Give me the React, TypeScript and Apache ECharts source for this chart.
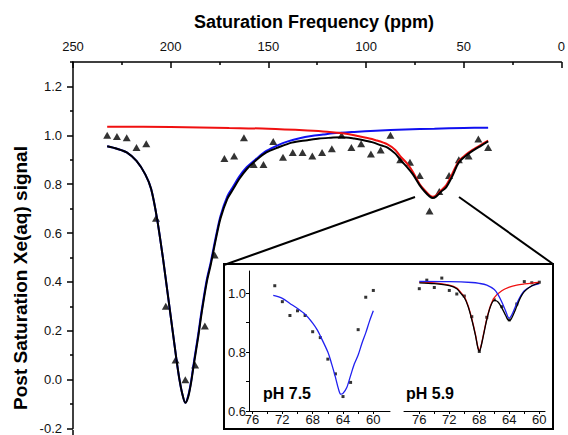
import React, { useEffect, useRef } from "react";
import * as echarts from "echarts";

// ---- Main chart: measured points (triangles)
const triPpm = [232.5, 227.5, 222.5, 217.5, 212.5, 207.5, 202.5, 197.5, 192.5, 187.5, 182.5, 177.5, 172.5, 167.5, 162.5, 157.5, 152.5, 147.5, 142.5, 137.5, 132.5, 127.5, 122.5, 117.5, 112.5, 107.5, 102.5, 97.5, 92.5, 87.5, 82.5, 77.5, 72.5, 67.5, 62.5, 57.5, 52.5, 47.5, 42.5, 37.5];
const triSignal = [1.0, 0.995, 0.99, 0.95, 0.965, 0.66, 0.3, 0.08, 0.0, 0.06, 0.22, 0.51, 0.905, 0.915, 0.99, 0.88, 0.88, 0.975, 0.91, 0.93, 0.93, 0.915, 0.93, 0.945, 1.0, 0.95, 0.965, 0.923, 0.94, 1.0, 0.9, 0.89, 0.835, 0.69, 0.77, 0.835, 0.9, 0.915, 0.985, 0.95];

// ---- Main chart: total fit (black)
const blackPpm = [232.5, 227.5, 222.5, 217.5, 213, 210, 207, 204, 201.5, 199, 197, 195.5, 194, 192.5, 191, 189.5, 188, 186, 184, 181.5, 179.5, 177, 174.5, 171, 168, 165, 161, 156, 151, 145, 138, 130, 124, 118, 112.5, 106, 102.5, 97, 92, 89, 85, 82.5, 79, 76, 72.5, 70, 67.5, 65.8, 64, 61.5, 59, 56, 52.5, 49, 45.5, 41, 37.5];
const blackSignal = [0.955, 0.945, 0.93, 0.895, 0.84, 0.78, 0.66, 0.5, 0.35, 0.2, 0.08, 0.0, -0.06, -0.095, -0.07, -0.01, 0.07, 0.17, 0.28, 0.4, 0.47, 0.57, 0.66, 0.74, 0.78, 0.82, 0.862, 0.9, 0.93, 0.95, 0.97, 0.98, 0.987, 0.99, 0.992, 0.987, 0.982, 0.972, 0.958, 0.95, 0.925, 0.9, 0.87, 0.84, 0.795, 0.77, 0.75, 0.743, 0.75, 0.77, 0.787, 0.83, 0.889, 0.915, 0.936, 0.958, 0.975];

// ---- Main chart: Xe@cage component (blue)
const bluePpm = [232.5, 227.5, 222.5, 217.5, 213, 210, 207, 204, 201.5, 199, 197, 195.5, 194, 192.5, 191, 189.5, 188, 186, 184, 181.5, 179.5, 177, 174.5, 171, 168, 165, 161, 156, 151, 145, 140, 134, 128, 122, 117, 106, 95, 80, 65, 50, 37.5];
const blueSignal = [0.955, 0.945, 0.93, 0.895, 0.84, 0.78, 0.66, 0.5, 0.35, 0.2, 0.08, 0.0, -0.06, -0.095, -0.065, -0.005, 0.078, 0.18, 0.29, 0.41, 0.48, 0.58, 0.67, 0.75, 0.79, 0.83, 0.87, 0.905, 0.936, 0.96, 0.975, 0.988, 0.997, 1.003, 1.008, 1.014, 1.019, 1.024, 1.027, 1.03, 1.031];

// ---- Main chart: second component (red)
const redPpm = [232.5, 200, 170, 150, 130, 120, 112, 106, 100, 95, 89, 85, 82.5, 79, 76, 72.5, 70, 67.5, 65.8, 64, 61.5, 59, 56, 52.5, 49, 45.5, 41, 37.5];
const redSignal = [1.035, 1.034, 1.03, 1.027, 1.02, 1.015, 1.008, 1.0, 0.99, 0.98, 0.963, 0.94, 0.915, 0.885, 0.85, 0.8, 0.775, 0.755, 0.748, 0.755, 0.775, 0.795, 0.84, 0.895, 0.92, 0.94, 0.962, 0.978];

// ---- Inset, pH 7.5
const inAPpm = [73, 72, 71, 70, 69, 68, 67, 66, 65, 64, 63, 62, 61, 60];
const inASignal = [1.025, 0.971, 0.924, 0.94, 0.924, 0.869, 0.849, 0.776, 0.726, 0.649, 0.697, 0.876, 0.986, 1.009];
const inABluePpm = [73.2, 72, 71, 70, 69, 68, 67.4, 67, 66, 65.5, 65, 64.6, 64.3, 64, 63.5, 63, 62.5, 62, 61.5, 61, 60.5, 60];
const inABlueSignal = [0.992, 0.982, 0.965, 0.948, 0.928, 0.898, 0.875, 0.855, 0.8, 0.76, 0.715, 0.675, 0.657, 0.66, 0.68, 0.72, 0.76, 0.79, 0.83, 0.865, 0.905, 0.94];

// ---- Inset, pH 5.9
const inBPpm = [76, 75, 74, 73, 72, 71, 70, 69, 68, 67, 66, 65, 64, 63, 62, 61, 60];
const inBSignal = [1.015, 1.044, 1.019, 1.051, 1.009, 0.997, 0.99, 0.92, 0.802, 0.918, 0.977, 0.954, 0.909, 0.963, 1.039, 1.035, 1.037];
const inBBlackPpm = [76, 74, 72, 71, 70.5, 70, 69.5, 69, 68.5, 68.2, 68, 67.8, 67.5, 67, 66.5, 66, 65.5, 65, 64.5, 64.2, 64, 63.8, 63.5, 63, 62.5, 62, 61, 60];
const inBBlackSignal = [1.035, 1.032, 1.025, 1.015, 1.0, 0.985, 0.955, 0.91, 0.855, 0.815, 0.803, 0.815, 0.85, 0.91, 0.955, 0.975, 0.97, 0.95, 0.925, 0.91, 0.907, 0.91, 0.925, 0.955, 0.985, 1.005, 1.025, 1.035];
const inBRedPpm = [76, 74, 72, 71, 70.5, 70, 69.5, 69, 68.5, 68.2, 68, 67.8, 67.5, 67, 66.5, 66, 65, 64, 63, 62, 61, 60];
const inBRedSignal = [1.037, 1.035, 1.027, 1.017, 1.003, 0.988, 0.958, 0.913, 0.858, 0.818, 0.805, 0.818, 0.853, 0.913, 0.958, 0.985, 1.008, 1.02, 1.027, 1.031, 1.034, 1.036];
const inBBluePpm = [76, 72, 69, 68, 67, 66, 65.5, 65, 64.5, 64.2, 64, 63.8, 63.5, 63, 62.5, 62, 61, 60];
const inBBlueSignal = [1.04, 1.039, 1.036, 1.033, 1.027, 1.012, 0.995, 0.97, 0.94, 0.92, 0.915, 0.92, 0.935, 0.965, 0.99, 1.008, 1.024, 1.032];

const mainYTicks = [-0.2, 0, 0.2, 0.4, 0.6, 0.8, 1.0, 1.2];
const insetXLabels = [60, 64, 68, 72, 76];
const insetXTicks = [60, 62, 64, 66, 68, 70, 72, 74, 76];
const insetYLabels = [0.6, 0.8, 1.0];
const insetYTicks = [0.6, 0.7, 0.8, 0.9, 1.0];

const FONT = "'Liberation Sans', Arial, Helvetica, sans-serif";

const pairs = (xs: number[], ys: number[]) => xs.map((x, i) => [x, ys[i]]);

function buildOption(): any {
  const axisLine = { show: true, onZero: false, lineStyle: { color: "#000", width: 1.5 } };
  const lbl = { color: "#111", fontSize: 13, fontFamily: FONT };
  const insetX = (gridIndex: number, min: number, max: number) => ({
    type: "value",
    gridIndex,
    min,
    max,
    inverse: true,
    position: "bottom",
    axisLine: { show: true, onZero: false, lineStyle: { color: "#000", width: 1 } },
    axisTick: { show: true, length: 3, customValues: insetXTicks, lineStyle: { color: "#000", width: 1 } },
    axisLabel: { ...lbl, margin: 2, customValues: insetXLabels },
    splitLine: { show: false },
  });
  const lineSeries = (name: string, xi: number, xs: number[], ys: number[], color: string, width: number) => ({
    name,
    type: "line",
    xAxisIndex: xi,
    yAxisIndex: xi,
    data: pairs(xs, ys),
    showSymbol: false,
    smooth: 0.3,
    lineStyle: { color, width },
    itemStyle: { color },
    silent: true,
  });
  return {
    animation: false,
    backgroundColor: "#fff",
    textStyle: { fontFamily: FONT },
    grid: [
      { left: 73, top: 62, width: 498, height: 369, containLabel: false },
      { left: 249, top: 271, width: 141, height: 140 },
      { left: 404, top: 271, width: 141, height: 140 },
    ],
    xAxis: [
      {
        type: "value",
        gridIndex: 0,
        position: "top",
        min: 0,
        max: 250,
        interval: 50,
        inverse: true,
        axisLine,
        axisTick: { show: true, inside: true, length: 6, lineStyle: { color: "#000", width: 1.5 } },
        minorTick: { show: true, splitNumber: 2, length: 3, lineStyle: { color: "#000", width: 1.5 } },
        axisLabel: { ...lbl, margin: 9 },
        splitLine: { show: false },
        minorSplitLine: { show: false },
      },
      insetX(1, 57.8, 76.4),
      insetX(2, 59.24, 78.04),
    ],
    yAxis: [
      {
        type: "value",
        gridIndex: 0,
        position: "left",
        min: -0.2,
        max: 1.3,
        interval: 0.2,
        axisLine,
        axisTick: { show: true, length: 6, customValues: mainYTicks, lineStyle: { color: "#000", width: 1.5 } },
        minorTick: { show: true, splitNumber: 2, length: 3, lineStyle: { color: "#000", width: 1.5 } },
        axisLabel: { ...lbl, margin: 11, customValues: mainYTicks, formatter: (v: number) => v.toFixed(1) },
        splitLine: { show: false },
        minorSplitLine: { show: false },
      },
      {
        type: "value",
        gridIndex: 1,
        min: 0.6,
        max: 1.075,
        axisLine: { show: true, onZero: false, lineStyle: { color: "#000", width: 1 } },
        axisTick: { show: true, length: 3, customValues: insetYTicks, lineStyle: { color: "#000", width: 1 } },
        axisLabel: { ...lbl, margin: 3, customValues: insetYLabels, formatter: (v: number) => v.toFixed(1) },
        splitLine: { show: false },
      },
      {
        type: "value",
        gridIndex: 2,
        min: 0.6,
        max: 1.075,
        show: false,
        splitLine: { show: false },
      },
    ],
    graphic: [
      {
        type: "rect",
        z: 0,
        shape: { x: 224, y: 264, width: 329, height: 165 },
        style: { fill: "#fff", stroke: "#000", lineWidth: 2 },
      },
      { type: "line", z: 0, shape: { x1: 224, y1: 265, x2: 415, y2: 197 }, style: { stroke: "#000", lineWidth: 2 } },
      { type: "line", z: 0, shape: { x1: 459, y1: 197, x2: 553, y2: 264 }, style: { stroke: "#000", lineWidth: 2 } },
      { type: "line", z: 0, shape: { x1: 73, y1: 430, x2: 73, y2: 436 }, style: { stroke: "#000", lineWidth: 1.5 } },
      {
        type: "text",
        z: 10,
        x: 314,
        y: 22,
        style: { text: "Saturation Frequency (ppm)", font: `bold 18px ${FONT}`, fill: "#000", align: "center", verticalAlign: "middle" },
      },
      {
        type: "text",
        z: 10,
        x: 20,
        y: 278,
        rotation: Math.PI / 2,
        style: { text: "Post Saturation Xe(aq) signal", font: `bold 19px ${FONT}`, fill: "#000", align: "center", verticalAlign: "middle" },
      },
      {
        type: "text",
        z: 10,
        x: 287,
        y: 393,
        style: { text: "pH 7.5", font: `bold 16px ${FONT}`, fill: "#000", align: "center", verticalAlign: "middle" },
      },
      {
        type: "text",
        z: 10,
        x: 430,
        y: 393,
        style: { text: "pH 5.9", font: `bold 16px ${FONT}`, fill: "#000", align: "center", verticalAlign: "middle" },
      },
    ],
    series: [
      {
        name: "data",
        type: "scatter",
        xAxisIndex: 0,
        yAxisIndex: 0,
        symbol: "triangle",
        symbolSize: [8, 7],
        itemStyle: { color: "#000" },
        data: pairs(triPpm, triSignal),
        silent: true,
      },
      lineSeries("blue", 0, bluePpm, blueSignal, "#1010f0", 2),
      lineSeries("red", 0, redPpm, redSignal, "#f01010", 2),
      lineSeries("fit", 0, blackPpm, blackSignal, "#000", 2),
      {
        name: "pH 7.5 data",
        type: "scatter",
        xAxisIndex: 1,
        yAxisIndex: 1,
        symbol: "rect",
        symbolSize: 3,
        itemStyle: { color: "#000" },
        data: pairs(inAPpm, inASignal),
        silent: true,
      },
      lineSeries("pH 7.5 fit", 1, inABluePpm, inABlueSignal, "#2020f0", 1.3),
      {
        name: "pH 5.9 data",
        type: "scatter",
        xAxisIndex: 2,
        yAxisIndex: 2,
        symbol: "rect",
        symbolSize: 3,
        itemStyle: { color: "#000" },
        data: pairs(inBPpm, inBSignal),
        silent: true,
      },
      lineSeries("pH 5.9 red", 2, inBRedPpm, inBRedSignal, "#f01010", 1.3),
      lineSeries("pH 5.9 blue", 2, inBBluePpm, inBBlueSignal, "#2020f0", 1.3),
      lineSeries("pH 5.9 fit", 2, inBBlackPpm, inBBlackSignal, "#000", 1.3),
    ],
  };
}

export default function App() {
  const ref = useRef<HTMLDivElement>(null);
  useEffect(() => {
    document.body.style.margin = "0";
    if (!ref.current) return;
    const chart = echarts.init(ref.current, null, { renderer: "svg" });
    chart.setOption(buildOption());
    return () => chart.dispose();
  }, []);
  return <div ref={ref} style={{ width: 568, height: 435, position: "absolute", left: 0, top: 0 }} />;
}
